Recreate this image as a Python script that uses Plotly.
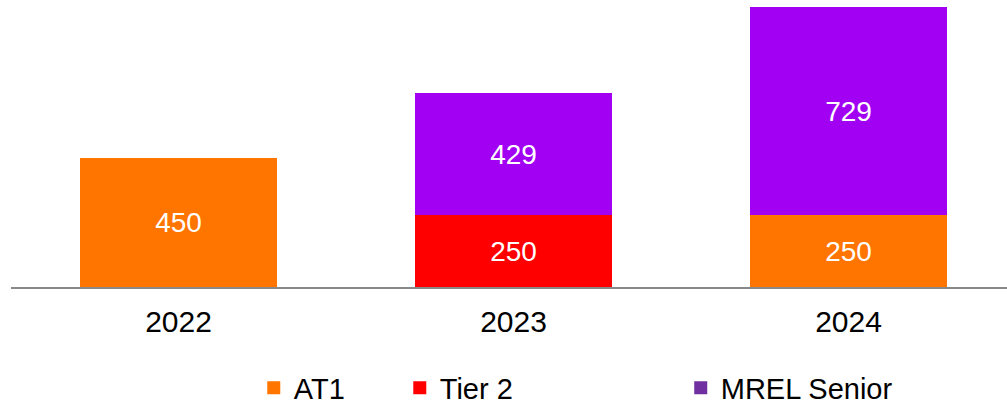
import plotly.graph_objects as go

years = ["2022", "2023", "2024"]
at1 = [450, None, 250]
tier2 = [None, 250, None]
mrel = [None, 429, 729]

series_names = ["AT1", "Tier 2", "MREL Senior"]
bar_colors = ["#FF7500", "#FF0000", "#A100F2"]
legend_colors = ["#FF7500", "#FF0000", "#7030A0"]
legend_x = [0.252, 0.397, 0.676]

fig = go.Figure()
for name, vals, col in zip(series_names, [at1, tier2, mrel], bar_colors):
    fig.add_trace(go.Bar(
        x=years, y=vals, name=name, marker=dict(color=col, line=dict(width=0)),
        text=[("" if v is None else str(v)) for v in vals],
        textposition="inside", insidetextanchor="middle",
        textfont=dict(color="white", size=28, family="Liberation Sans, Arial"),
        showlegend=False, hoverinfo="skip",
    ))

for i, (name, col) in enumerate(zip(series_names, legend_colors)):
    fig.add_trace(go.Scatter(
        x=[None], y=[None], mode="markers", name=name,
        marker=dict(symbol="square", size=13, color=col),
        legend="legend" if i == 0 else f"legend{i+1}",
    ))

legend_common = dict(
    xref="container", yref="container", xanchor="left", yanchor="middle",
    font=dict(size=29, family="Liberation Sans, Arial", color="black"),
    bgcolor="rgba(0,0,0,0)", borderwidth=0, orientation="h",
)
fig.update_layout(
    barmode="stack",
    bargap=0.412,
    width=1007, height=404,
    margin=dict(l=11, r=0, t=0, b=117),
    plot_bgcolor="white", paper_bgcolor="white",
    xaxis=dict(
        type="category", range=[-0.5, 2.473], showgrid=False, showline=True,
        linecolor="#898989", linewidth=2, ticks="", ticklabelstandoff=7,
        tickfont=dict(size=30, family="Liberation Sans, Arial", color="black"),
    ),
    yaxis=dict(range=[0, 1003], visible=False, showgrid=False),
    legend=dict(x=legend_x[0], y=0.04, **legend_common),
    legend2=dict(x=legend_x[1], y=0.04, **legend_common),
    legend3=dict(x=legend_x[2], y=0.04, **legend_common),
    showlegend=True,
)

fig.write_html("out.html", config={"displayModeBar": False},
               post_script="document.body.style.margin='0px';")
